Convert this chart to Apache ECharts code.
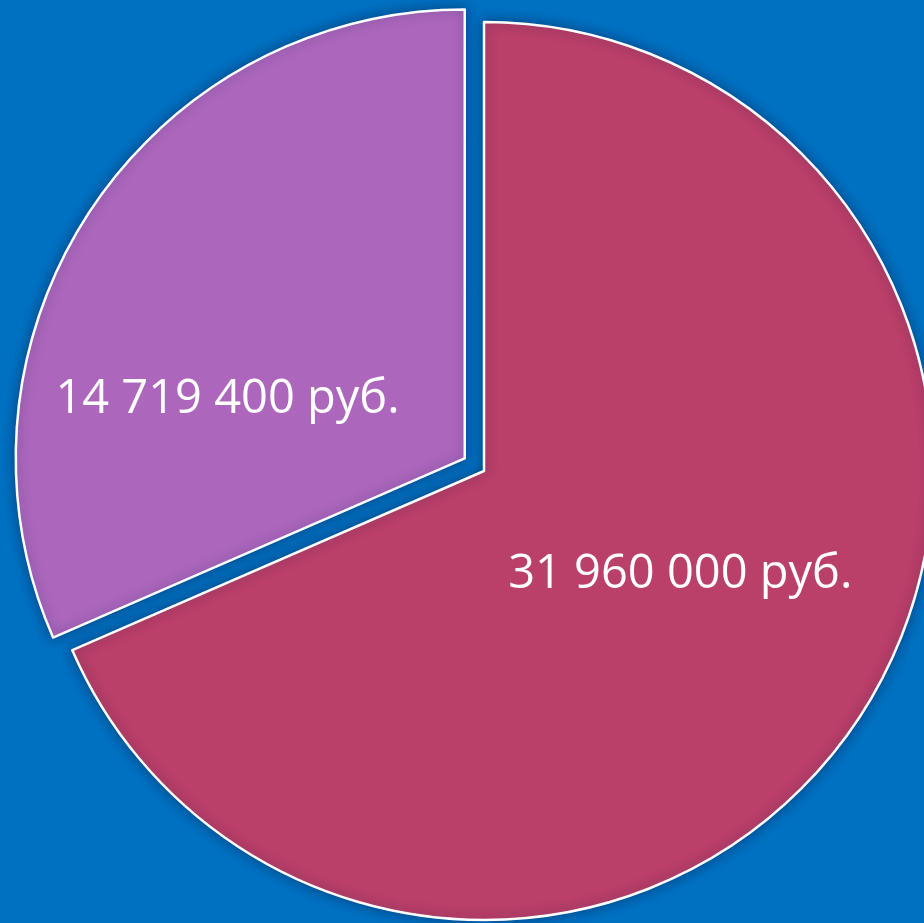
<!DOCTYPE html>
<html>
<head>
<meta charset="utf-8">
<script src="https://cdn.jsdelivr.net/npm/echarts@6/dist/echarts.min.js"></script>
<style>
  html, body { margin: 0; padding: 0; background: #0070c0; }
  #pie { width: 924px; height: 923px; }
</style>
</head>
<body>
<div id="pie"></div>
<script>
// данные диаграммы
var names = ['Сумма 1', 'Сумма 2'];
var values = [31960000, 14719400];
var labels = ['31 960 000 руб.', '14 719 400 руб.'];
var colors = ['#ba3f69', '#ac67bd'];
// сдвиг подписей относительно стандартного положения inside
var labelShift = [[6, -21], [-47, 66]];

var chart = echarts.init(document.getElementById('pie'));

var pieData = [];
for (var i = 0; i < values.length; i++) {
  pieData.push({
    name: names[i],
    value: values[i],
    selected: i === 1,
    itemStyle: { color: colors[i] },
    label: { formatter: labels[i] }
  });
}

var option = {
  backgroundColor: '#0070c0',
  animation: false,
  series: [
    {
      type: 'pie',
      center: [484, 471],
      radius: 449,
      startAngle: 90,
      clockwise: true,
      selectedMode: 'single',
      selectedOffset: 23,
      avoidLabelOverlap: false,
      data: pieData,
      itemStyle: {
        borderColor: '#ffffff',
        borderWidth: 2.5,
        shadowBlur: 12,
        shadowColor: 'rgba(0, 20, 60, 0.45)'
      },
      label: {
        show: true,
        position: 'inside',
        color: '#ffffff',
        fontFamily: 'Open Sans',
        fontSize: 47
      },
      labelLine: { show: false },
      labelLayout: function (params) {
        var s = labelShift[params.dataIndex];
        return { dx: s[0], dy: s[1] };
      },
      emphasis: { disabled: true }
    }
  ]
};
chart.setOption(option);
</script>
</body>
</html>
